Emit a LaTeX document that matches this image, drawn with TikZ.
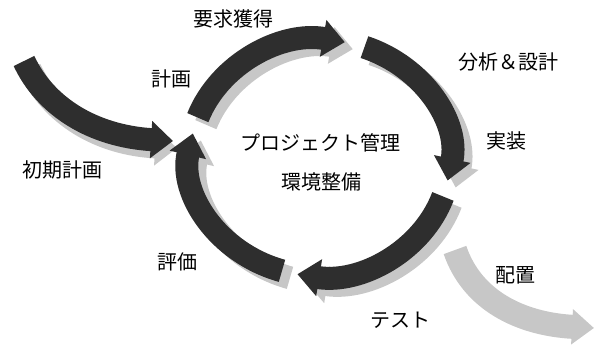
\documentclass[tikz,border=0pt]{standalone}
\usepackage{fontspec}
\newfontfamily\jp{Noto Sans CJK JP}
\usetikzlibrary{arrows.meta,calc}
\begin{document}
\begin{tikzpicture}[x=1pt,y=-1pt,
  cyc/.style={line width=23pt, draw=black!82, -{Triangle[width=36pt,length=22pt]}},
  shad/.style={line width=23pt, draw=black!22, -{Triangle[width=36pt,length=22pt]}},
  lbl/.style={font=\jp\fontsize{20}{24}\selectfont, inner sep=0pt}]
\useasboundingbox (0,0) rectangle (596,351);
\coordinate (c) at (320,158);
\coordinate (cs) at (328,165);
% arc end points
\coordinate (a1s) at ($(c)+(200:130 and 118)$);
\coordinate (a2s) at ($(c)+(290:130 and 118)$);
\coordinate (a3s) at ($(c)+(19:130 and 118)$);
\coordinate (a4s) at ($(c)+(107:130 and 118)$);
\coordinate (i0) at (24,61);
\coordinate (ie) at (173,141);
\coordinate (d0) at (455,250);
\coordinate (de) at (594,328);
% shadows
\draw[shad] ($(cs)+(200:130 and 118)$) arc[start angle=200, end angle=281, x radius=130, y radius=118];
\draw[shad] ($(cs)+(290:130 and 118)$) arc[start angle=290, end angle=371, x radius=130, y radius=118];
\draw[shad] ($(cs)+(19:130 and 118)$) arc[start angle=19, end angle=100, x radius=130, y radius=118];
\draw[shad] ($(cs)+(107:130 and 118)$) arc[start angle=107, end angle=192, x radius=130, y radius=118];
\draw[shad] ($(i0)+(6,8)$) .. controls (51,114) and (98,144) .. ($(ie)+(4,7)$);
% deployment arrow
\draw[line width=24pt, draw=black!22, -{Triangle[width=34pt,length=22pt]}] (d0) .. controls (472,300) and (520,324) .. (de);
% main cycle
\draw[cyc] (a1s) arc[start angle=200, end angle=281, x radius=130, y radius=118];
\draw[cyc] (a2s) arc[start angle=290, end angle=371, x radius=130, y radius=118];
\draw[cyc] (a3s) arc[start angle=19, end angle=100, x radius=130, y radius=118];
\draw[cyc] (a4s) arc[start angle=107, end angle=192, x radius=130, y radius=118];
\draw[cyc] (i0) .. controls (45,106) and (92,136) .. (ie);
% labels
\node[lbl] (req) at (233,19) {要求獲得};
\node[lbl] (plan) at (171,79) {計画};
\node[lbl] (ana) at (508,62) {分析＆設計};
\node[lbl] (pm) at (320,143) {プロジェクト管理};
\node[lbl] (env) at (321,182) {環境整備};
\node[lbl] (impl) at (506,141) {実装};
\node[lbl] (init) at (62,170) {初期計画};
\node[lbl] (eval) at (177,262) {評価};
\node[lbl] (dep) at (515,275) {配置};
\node[lbl] (test) at (400,320) {テスト};
\end{tikzpicture}
\end{document}
